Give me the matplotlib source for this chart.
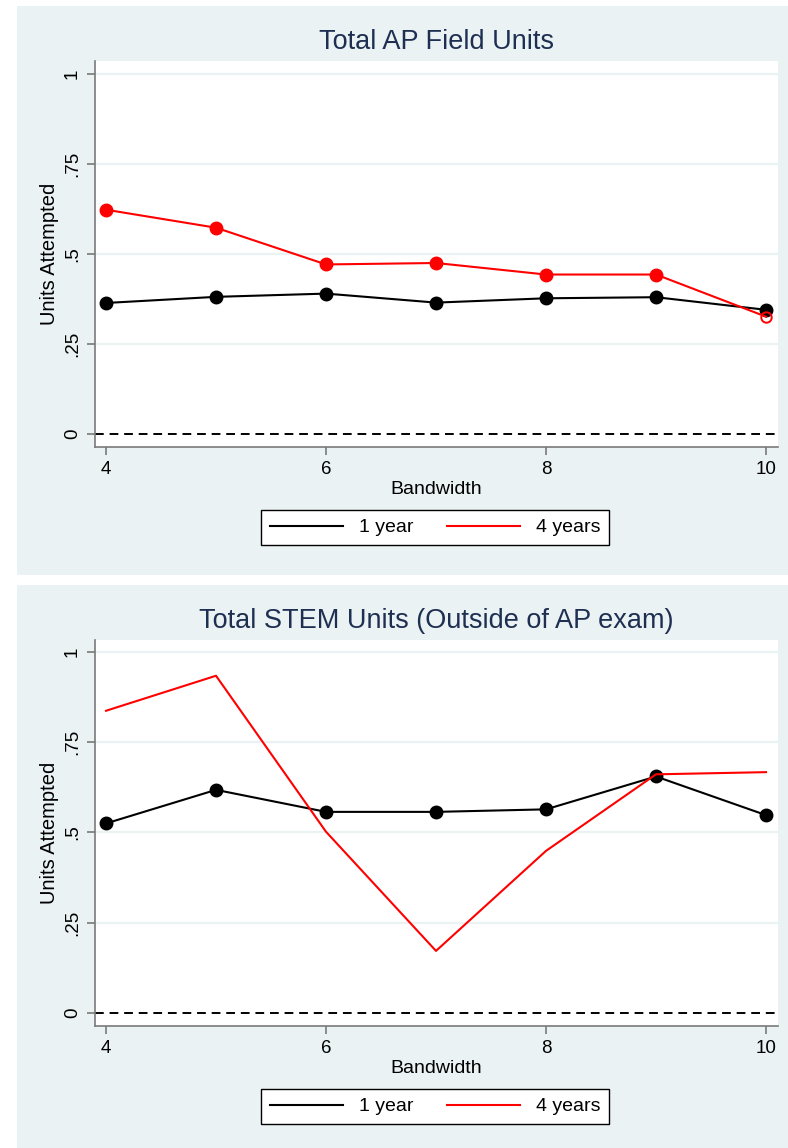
import matplotlib
matplotlib.use("Agg")
import matplotlib.pyplot as plt
from matplotlib.patches import Rectangle
from matplotlib.lines import Line2D

plt.rcParams['font.family'] = ['Liberation Sans', 'DejaVu Sans']

# ---- data ----
bandwidth = [4, 5, 6, 7, 8, 9, 10]
ap_1yr = [0.364, 0.381, 0.390, 0.365, 0.377, 0.380, 0.345]
ap_4yr = [0.623, 0.573, 0.471, 0.475, 0.443, 0.443, 0.326]
ap_4yr_sig = [True, True, True, True, True, True, False]
stem_1yr = [0.525, 0.618, 0.557, 0.557, 0.564, 0.655, 0.548]
stem_4yr = [0.837, 0.934, 0.502, 0.172, 0.449, 0.661, 0.667]
titles = ["Total AP Field Units", "Total STEM Units (Outside of AP exam)"]
yticks = [0, 0.25, 0.5, 0.75, 1]
ytick_labels = ["0", ".25", ".5", ".75", "1"]
xticks = [4, 6, 8, 10]
legend_labels = ["1 year", "4 years"]

W, H = 788, 1148
BG = "#EAF2F3"
AXC = "#7a7a7a"
TITLEC = "#1E2F52"

fig = plt.figure(figsize=(W / 100, H / 100), dpi=100)
fig.patch.set_facecolor("white")

def fx(px):
    return px / W

def fy(py):
    return 1 - py / H

# panel backgrounds
for (top, bot) in [(6, 575), (585, 1148)]:
    fig.patches.append(Rectangle((fx(17), fy(bot)), fx(800) - fx(17), fy(top) - fy(bot),
                                 transform=fig.transFigure, facecolor=BG, edgecolor="none", zorder=-10))

panels = [
    dict(top=61, bot=447, ylim=(-0.036, 1.036), title_y=42, leg_y=510),
    dict(top=640, bot=1026, ylim=(-0.036, 1.033), title_y=621, leg_y=1089),
]

for i, p in enumerate(panels):
    ax = fig.add_axes([fx(95), fy(p["bot"]), fx(778) - fx(95), (p["bot"] - p["top"]) / H])
    ax.set_zorder(1)
    ax.set_facecolor("white")
    ax.set_xlim(3.9, 10.109)
    ax.set_ylim(*p["ylim"])
    for y in yticks[1:]:
        ax.axhline(y, color=BG, lw=1.6, zorder=1)
    ax.axhline(0, color="black", lw=1.4, ls=(0, (4.5, 3)), zorder=2)

    if i == 0:
        ax.plot(bandwidth, ap_1yr, color="black", lw=1.5, marker="o", ms=9, zorder=3)
        ax.plot(bandwidth, ap_4yr, color="red", lw=1.5, zorder=4)
        xs_f = [b for b, s in zip(bandwidth, ap_4yr_sig) if s]
        ys_f = [v for v, s in zip(ap_4yr, ap_4yr_sig) if s]
        xs_h = [b for b, s in zip(bandwidth, ap_4yr_sig) if not s]
        ys_h = [v for v, s in zip(ap_4yr, ap_4yr_sig) if not s]
        ax.plot(xs_f, ys_f, ls="none", marker="o", ms=9, color="red", zorder=5)
        ax.plot(xs_h, ys_h, ls="none", marker="o", ms=7.5, mfc="none", mec="red", mew=1.4, zorder=5)
    else:
        ax.plot(bandwidth, stem_1yr, color="black", lw=1.5, marker="o", ms=9, zorder=3)
        ax.plot(bandwidth, stem_4yr, color="red", lw=1.5, zorder=4)

    for s in ["top", "right"]:
        ax.spines[s].set_visible(False)
    for s in ["left", "bottom"]:
        ax.spines[s].set_color(AXC)
        ax.spines[s].set_linewidth(1.2)
    ax.set_yticks(yticks)
    ax.set_yticklabels(ytick_labels, rotation=90, va="center", fontsize=13.5)
    ax.set_xticks(xticks)
    ax.set_xticklabels([str(x) for x in xticks], fontsize=13.5)
    ax.tick_params(axis="both", color=AXC, width=1.2, length=6, direction="out", pad=4)
    ax.set_xlabel("Bandwidth", fontsize=14, labelpad=2)
    ax.set_ylabel("Units Attempted", fontsize=14.5)
    ax.yaxis.set_label_coords((59 - 95) / (778 - 95), 0.5)

    fig.text(fx(436.5), fy(p["title_y"]), titles[i], ha="center", va="center",
             fontsize=19.5, color=TITLEC)

    handles = [Line2D([], [], color="black", lw=1.5), Line2D([], [], color="red", lw=1.5)]
    leg = fig.legend(handles, legend_labels, loc="upper center",
                     bbox_to_anchor=(fx(435), fy(p["leg_y"])), ncol=2, fontsize=14,
                     frameon=True, fancybox=False, shadow=False, handlelength=3.8,
                     columnspacing=1.7, handletextpad=0.8, borderpad=0.45,
                     borderaxespad=0, framealpha=1, facecolor="white")
    leg.get_frame().set_edgecolor("black")
    leg.get_frame().set_linewidth(1.0)

fig.savefig("out.png", dpi=100, facecolor="white")
